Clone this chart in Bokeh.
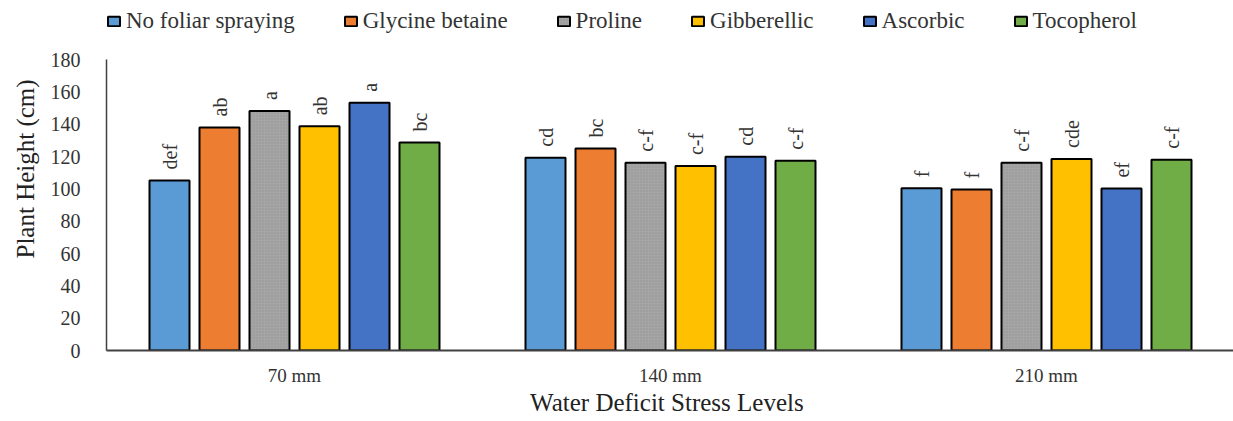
import numpy as np
from bokeh.plotting import figure
from bokeh.models import ColumnDataSource, Range1d, FixedTicker, Legend, LegendItem, Title
from bokeh.transform import dodge
from bokeh.core.properties import value
from bokeh.embed import file_html
from bokeh.resources import INLINE

levels = ["70 mm", "140 mm", "210 mm"]
treatments = ["No foliar spraying", "Glycine betaine", "Proline", "Gibberellic", "Ascorbic", "Tocopherol"]
no_foliar = [105.2, 119.3, 100.4]
glycine = [138.0, 124.9, 99.6]
proline = [148.2, 116.2, 116.2]
gibberellic = [138.7, 114.1, 118.5]
ascorbic = [153.2, 119.9, 100.2]
tocopherol = [128.6, 117.4, 118.0]
let_no = ["def", "cd", "f"]
let_gly = ["ab", "bc", "f"]
let_pro = ["a", "c-f", "c-f"]
let_gib = ["ab", "c-f", "cde"]
let_asc = ["a", "cd", "ef"]
let_toc = ["bc", "c-f", "c-f"]
colors = ["#5B9BD5", "#ED7D31", "#A5A5A5", "#FFC000", "#4472C4", "#70AD47"]

series = [no_foliar, glycine, proline, gibberellic, ascorbic, tocopherol]
letters = [let_no, let_gly, let_pro, let_gib, let_asc, let_toc]

data = {"x": [1, 2, 3]}
for i in range(6):
    data[f"v{i}"] = series[i]
    data[f"l{i}"] = letters[i]
src = ColumnDataSource(data)

FONT_Q = "'Liberation Serif', 'Times New Roman', serif"
W, H = 1233, 421
LEFT, BOTTOM = 106, 71
FRAME_H = H - BOTTOM          # frame spans the whole top of the canvas
PX_PER_UNIT = 291 / 180       # 0..180 occupies 291 px as in the reference
p = figure(width=W, height=H, output_backend="svg", toolbar_location=None,
           x_range=Range1d(0.5, 0.5 + (W - LEFT) / 376),
           y_range=Range1d(0, FRAME_H / PX_PER_UNIT),
           min_border_left=LEFT, min_border_right=0, min_border_top=0, min_border_bottom=BOTTOM)
p.outline_line_color = None
p.xgrid.visible = False
p.ygrid.visible = False

step = 50 / 376
bw = 40 / 376
items = []
for i in range(6):
    off = (i - 2.5) * step
    kw = {}
    if i == 2:
        kw = dict(hatch_pattern="dot", hatch_scale=3, hatch_color="#7f7f7f", hatch_alpha=0.5, hatch_weight=1)
    r = p.vbar(x=dodge("x", off, range=p.x_range), top=f"v{i}", width=bw, source=src,
               fill_color=colors[i], line_color="black", line_width=2, **kw)
    items.append(LegendItem(label=treatments[i], renderers=[r]))
    p.text(x=dodge("x", off, range=p.x_range), y=f"v{i}", text=f"l{i}", source=src,
           angle=np.pi / 2, text_align="left", text_baseline="middle", y_offset=-11,
           text_font=value(FONT_Q), text_font_size="20px", text_color="#333333")

p.xaxis.ticker = FixedTicker(ticks=[1, 2, 3])
p.xaxis.major_label_overrides = {1: levels[0], 2: levels[1], 3: levels[2]}
p.xaxis.major_tick_line_color = None
p.xaxis.minor_tick_line_color = None
p.xaxis.major_label_standoff = 8
p.xaxis.major_label_text_font = FONT_Q
p.xaxis.major_label_text_font_size = "19px"
p.xaxis.major_label_text_color = "#333333"
p.xaxis.axis_line_color = "#404040"
p.xaxis.axis_line_width = 2
p.xaxis.axis_label = "Water Deficit  Stress Levels"
p.xaxis.axis_label_text_font = FONT_Q
p.xaxis.axis_label_text_font_size = "25px"
p.xaxis.axis_label_text_font_style = "normal"
p.xaxis.axis_label_text_color = "#222222"
p.xaxis.axis_label_standoff = 0

p.yaxis.ticker = FixedTicker(ticks=list(range(0, 181, 20)))
p.yaxis.bounds = (0, 180)
p.yaxis.major_tick_line_color = None
p.yaxis.minor_tick_line_color = None
p.yaxis.major_label_standoff = 20
p.yaxis.major_label_text_font = FONT_Q
p.yaxis.major_label_text_font_size = "20px"
p.yaxis.major_label_text_color = "#333333"
p.yaxis.axis_line_color = "#404040"
p.yaxis.axis_line_width = 1.5

p.add_layout(Title(text="Plant Height (cm)", align="left", offset=92, standoff=17,
                   text_font=FONT_Q, text_font_size="25px", text_font_style="normal",
                   text_color="#222222"), "left")

legend = Legend(items=items, orientation="horizontal", location=(0, FRAME_H - 34),
                label_text_font=FONT_Q, label_text_font_size="23px", label_text_color="#333333",
                glyph_width=15, glyph_height=12, label_standoff=5, spacing=48,
                padding=0, margin=0, border_line_color=None, background_fill_alpha=0)
p.add_layout(legend)

open("out.html", "w").write(file_html(p, INLINE))
